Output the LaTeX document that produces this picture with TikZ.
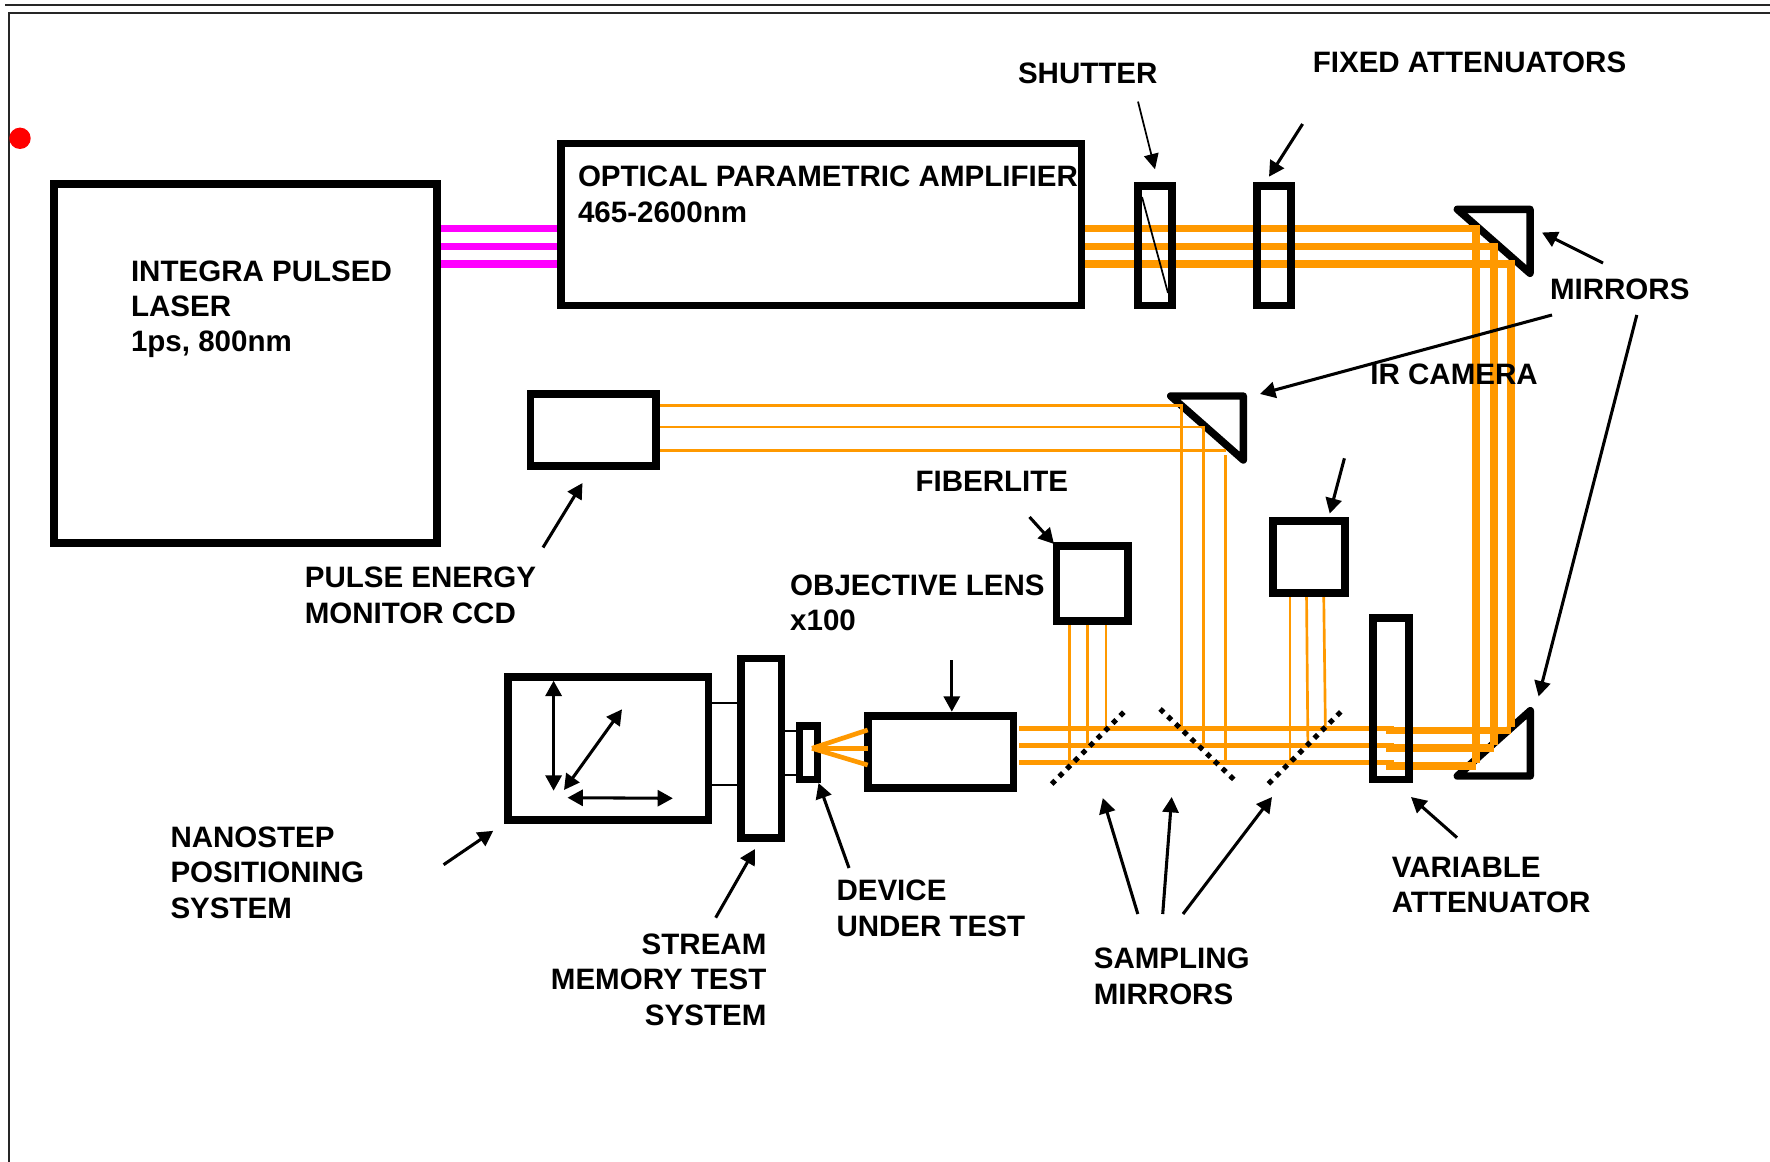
\documentclass[tikz,border=0pt]{standalone}
\usepackage{fontspec}
\setmainfont{Liberation Sans}
\usetikzlibrary{arrows.meta}
\definecolor{beamc}{HTML}{FF9900}
\definecolor{pumpc}{HTML}{FF00FF}
\newcommand{\boxnode}[5]{\node[boxst,minimum width={(#4-#2)*0.75pt},minimum height={(#5-#3)*0.75pt}] (#1) at ({(#2+#4)/2},{(#3+#5)/2}) {};}
\newcommand{\ptr}[5]{\coordinate (#1s) at (#2,#3); \coordinate (#1t) at (#4,#5); \draw[ptrst] (#1s) -- (#1t);}
\tikzset{
  boxst/.style={draw=black,line width=5.7pt,rectangle,inner sep=0pt,outer sep=0pt},
  mirrorst/.style={draw=black,line width=5.6pt,line join=round,line cap=round},
  thick beam/.style={draw=beamc,line width=5.5pt},
  mid beam/.style={draw=beamc,line width=3.8pt},
  thin beam/.style={draw=beamc,line width=2pt},
  pump/.style={draw=pumpc,line width=5.4pt},
  ptrst/.style={draw=black,line width=2.3pt,-{Triangle[length=11.5pt,width=12pt]}},
  ptrboth/.style={draw=black,line width=2.3pt,{Triangle[length=11.5pt,width=12pt]}-{Triangle[length=11.5pt,width=12pt]}},
  thinline/.style={draw=black,line width=1.3pt},
  sampler/.style={draw=black,line width=3.8pt,dash pattern=on 3.8pt off 4.27pt,shorten <=-1.9pt,shorten >=-1.9pt},
  lab/.style={anchor=base west,inner sep=0pt,outer sep=0pt,align=left,font=\fontsize{22.15}{26.6}\selectfont\bfseries},
  labr/.style={lab,anchor=base east,align=right}
}
\begin{document}
\begin{tikzpicture}[x=0.75pt,y=-0.75pt]
\useasboundingbox (0,0) rectangle (1770,1162);
% frame
\draw[line width=1.5pt,draw=black!85] (5,5.3) -- (1770,5.3);
\draw[line width=1.5pt,draw=black!85] (1770,13.3) -- (9.3,13.3) -- (9.3,1162);
\fill[red] (20,138.3) circle[radius=10.7];
% mirrors
\draw[mirrorst] (1457.3,209.3) -- (1530,209.3) -- (1530,273.3) -- cycle;
\draw[mirrorst] (1170.7,396) -- (1243.3,396) -- (1243.3,460) -- cycle;
\draw[mirrorst] (1457.3,776) -- (1530.3,776) -- (1530.3,710.7) -- cycle;
% pump beams
\draw[pump] (437,228.3) -- (561,228.3);
\draw[pump] (437,246.7) -- (561,246.7);
\draw[pump] (437,264) -- (561,264);
% main beams
\draw[thick beam,line join=miter] (1081.5,228.3) -- (1476,228.3) -- (1476,762.7);
\draw[thick beam,line join=miter] (1081.5,246.7) -- (1494,246.7) -- (1494,745);
\draw[thick beam,line join=miter] (1081.5,264) -- (1511,264) -- (1511,727);
\draw[thick beam] (1386,766) -- (1475.6,766);
\draw[thick beam] (1386,748) -- (1493.5,748);
\draw[thick beam] (1386,730.3) -- (1510.7,730.3);
\draw[mid beam] (1019.3,728.7) -- (1393.6,728.7);
\draw[mid beam] (1019.3,745.7) -- (1393.6,745.7);
\draw[mid beam] (1019.3,762.3) -- (1393.6,762.3);
% thin beams
\draw[thin beam] (656,405.3) -- (1181.7,405.3) -- (1181.7,728.7);
\draw[thin beam] (656,427) -- (1203.5,427) -- (1203.5,745.7);
\draw[thin beam] (656,450.7) -- (1225.7,450.7);
\draw[thin beam] (1225.5,455) -- (1225.5,762.3);
\draw[thin beam] (1069.6,621) -- (1069.6,762.3);
\draw[thin beam] (1087.5,621) -- (1087.5,745.7);
\draw[thin beam] (1106,621) -- (1106,728.7);
\draw[thin beam] (1290,593) -- (1290,762.3);
\draw[thin beam] (1306.5,593) -- (1307.9,745.7);
\draw[thin beam] (1323.7,593) -- (1325.4,728.7);
% sampling mirrors
\coordinate (sm1a) at (1053.4,782.3); \coordinate (sm1b) at (1122,714);
\coordinate (sm2a) at (1161.9,710.7); \coordinate (sm2b) at (1232,777.7);
\coordinate (sm3a) at (1270.3,782); \coordinate (sm3b) at (1338.9,713.7);
\draw[sampler] (sm1a) -- (sm1b);
\draw[sampler] (sm2a) -- (sm2b);
\draw[sampler] (sm3a) -- (sm3b);
% boxes
\boxnode{laser}{54}{184}{437}{543}
\boxnode{opa}{561}{143.5}{1081.5}{305.5}
\boxnode{shutter}{1138}{186}{1172}{305.5}
\boxnode{fixed}{1257}{186}{1291}{305.5}
\boxnode{monitor}{530.5}{394}{656}{466}
\boxnode{fiber}{1056.6}{546}{1128}{621}
\boxnode{ircam}{1273}{521}{1345}{593}
\boxnode{varatt}{1373}{618}{1409}{779.3}
\boxnode{stage}{508}{677}{708.5}{820}
\boxnode{tester}{741}{658.5}{781.5}{838}
\boxnode{dut}{799.3}{725.7}{817.5}{779.5}
\boxnode{objective}{867.7}{716}{1013.5}{787.7}
\draw[line width=1.3pt] (1142,197) -- (1168,293);
% thin links
\draw[thinline] (stage.east |- 0,703.3) -- (tester.west |- 0,703.3);
\draw[thinline] (stage.east |- 0,785.3) -- (tester.west |- 0,785.3);
\draw[thinline] (tester.east |- 0,730.7) -- (dut.west |- 0,730.7);
\draw[thinline] (tester.east |- 0,775.3) -- (dut.west |- 0,775.3);
% beam into DUT
\coordinate (focus) at (812,748.3);
\draw[draw=beamc,line width=3.5pt] (objective.west |- 0,730) -- (focus);
\draw[draw=beamc,line width=3.5pt] (objective.west |- 0,748.3) -- (focus);
\draw[draw=beamc,line width=3.5pt] (objective.west |- 0,765) -- (focus);
% stage arrows
\coordinate (zt) at (553.6,680.7); \coordinate (zb) at (553.6,790.7);
\coordinate (yt) at (622,709.3); \coordinate (yb) at (564,790);
\coordinate (xl) at (567.5,797.7); \coordinate (xr) at (672.9,798.3);
\draw[ptrboth] (zt) -- (zb);
\draw[ptrboth] (yt) -- (yb);
\draw[ptrboth] (xl) -- (xr);
% pointers
\ptr{ol}{951.8}{660}{951.8}{711.7}
\ptr{du}{849}{868}{818.5}{783}
\ptr{fa}{1302.6}{124}{1269}{176.7}
\ptr{ma}{1603}{263}{1542}{232.5}
\ptr{mb}{1552}{315}{1260}{394}
\ptr{mc}{1636.8}{315}{1538.6}{696.5}
\ptr{pe}{543}{547.5}{582.5}{483}
\ptr{fl}{1029.5}{517}{1054}{544}
\ptr{ir}{1344.4}{458.3}{1329.7}{513.6}
\ptr{na}{443.6}{864.7}{493.3}{830.8}
\ptr{st}{715.7}{917.7}{755}{849}
\ptr{sa}{1137.8}{914}{1102.8}{798}
\ptr{sb}{1162.7}{914}{1171.7}{797}
\ptr{sc}{1183}{914}{1272}{797}
\ptr{va}{1457}{837.6}{1411}{797}
\coordinate (shs) at (1138,101.6); \coordinate (sht) at (1155,169.3);
\draw[draw=black,line width=1.3pt,-{Triangle[length=11.5pt,width=11pt]}] (shs) -- (sht);
% labels
\node[lab] (tshutter) at (1018,83.5) {SHUTTER};
\node[lab] (tfixed) at (1312.8,73) {FIXED ATTENUATORS};
\node[lab] (topa) at (578,222.4) {OPTICAL PARAMETRIC AMPLIFIER\\465-2600nm};
\node[lab] (tlaser) at (131,352) {INTEGRA PULSED\\LASER\\1ps, 800nm};
\node[lab] (tmirrors) at (1550,300) {MIRRORS};
\node[lab] (tir) at (1370.4,384.8) {IR CAMERA};
\node[lab] (tfiber) at (915.5,491) {FIBERLITE};
\node[lab] (tpulse) at (304.8,623) {PULSE ENERGY\\MONITOR CCD};
\node[lab] (tobj) at (790.2,630.5) {OBJECTIVE LENS\\x100};
\node[lab] (tnano) at (170.5,918) {NANOSTEP\\POSITIONING\\SYSTEM};
\node[lab] (tdut) at (836.5,936.3) {DEVICE\\UNDER TEST};
\node[labr] (tstream) at (766.4,1025) {STREAM\\MEMORY TEST\\SYSTEM};
\node[lab] (tsamp) at (1093.8,1004) {SAMPLING\\MIRRORS};
\node[lab] (tvar) at (1391.8,912.5) {VARIABLE\\ATTENUATOR};
\end{tikzpicture}
\end{document}
